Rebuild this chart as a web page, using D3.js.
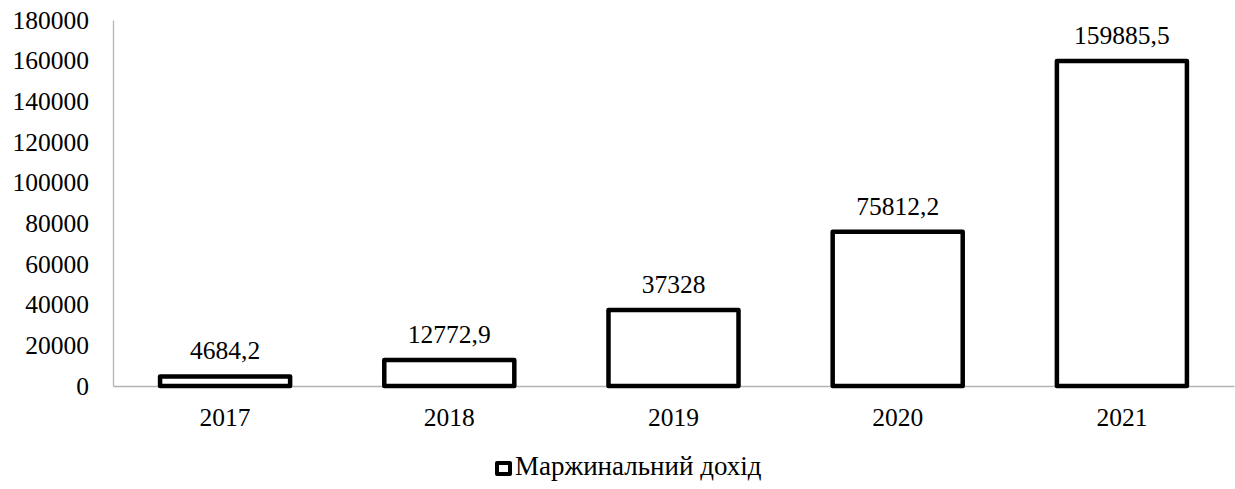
<!DOCTYPE html>
<html>
<head>
<meta charset="utf-8">
<script src="https://cdn.jsdelivr.net/npm/d3@7"></script>
<style>
  body { margin: 0; background: #fff; }
</style>
</head>
<body>
<div id="chart"></div>
<script>
// data
const years = ["2017", "2018", "2019", "2020", "2021"];
const values = [4684.2, 12772.9, 37328, 75812.2, 159885.5];
const valueLabels = ["4684,2", "12772,9", "37328", "75812,2", "159885,5"];
const yTicks = [0, 20000, 40000, 60000, 80000, 100000, 120000, 140000, 160000, 180000];
const seriesName = "Маржинальний дохід";

const width = 1235;
const height = 489;
const margin = { top: 20, right: 1, bottom: 103, left: 113 };
const font = "'Liberation Serif', 'Times New Roman', 'DejaVu Serif', serif";
const fontSize = 25.5;

const svg = d3.select("#chart")
    .append("svg")
    .attr("width", width)
    .attr("height", height)
    .attr("font-family", font);

// scales
const x = d3.scaleBand()
    .domain(years)
    .range([margin.left, width - margin.right])
    .paddingInner(0.42)
    .paddingOuter(0.21);

const y = d3.scaleLinear()
    .domain([0, 180000])
    .range([height - margin.bottom, margin.top]);

// y axis
svg.append("g")
    .attr("transform", `translate(${margin.left},0)`)
    .call(d3.axisLeft(y).tickValues(yTicks).tickSize(0).tickPadding(24).tickFormat(d3.format("d")))
    .attr("font-family", font)
    .attr("font-size", fontSize)
    .call((g) => g.select(".domain").attr("stroke", "#b3b3b3").attr("stroke-width", 1.3))
    .selectAll("text")
    .attr("fill", "#000");

// x axis
svg.append("g")
    .attr("transform", `translate(0,${height - margin.bottom})`)
    .call(d3.axisBottom(x).tickSize(0).tickPadding(22))
    .attr("font-family", font)
    .attr("font-size", fontSize)
    .call((g) => g.select(".domain").attr("stroke", "#b3b3b3").attr("stroke-width", 1.3))
    .selectAll("text")
    .attr("fill", "#000");

// bars
svg.selectAll("rect.bar")
    .data(values)
    .enter()
    .append("rect")
    .attr("class", "bar")
    .attr("x", (d, i) => x(years[i]))
    .attr("y", (d) => y(d))
    .attr("width", x.bandwidth())
    .attr("height", (d) => y(0) - y(d))
    .attr("fill", "#fff")
    .attr("stroke", "#000")
    .attr("stroke-width", 4.5)
    .attr("stroke-linejoin", "round");

// value labels
svg.selectAll("text.label")
    .data(values)
    .enter()
    .append("text")
    .attr("class", "label")
    .attr("x", (d, i) => x(years[i]) + x.bandwidth() / 2)
    .attr("y", (d) => y(d) - 17)
    .attr("text-anchor", "middle")
    .attr("font-size", fontSize)
    .text((d, i) => valueLabels[i]);

// legend
const legend = svg.append("g").attr("transform", "translate(497,463)");
legend.append("rect")
    .attr("x", 0)
    .attr("y", 0)
    .attr("width", 13)
    .attr("height", 11)
    .attr("fill", "#fff")
    .attr("stroke", "#000")
    .attr("stroke-width", 4)
    .attr("stroke-linejoin", "round");
legend.append("text")
    .attr("x", 18)
    .attr("y", 12)
    .attr("font-size", 27)
    .text(seriesName);
</script>
</body>
</html>
